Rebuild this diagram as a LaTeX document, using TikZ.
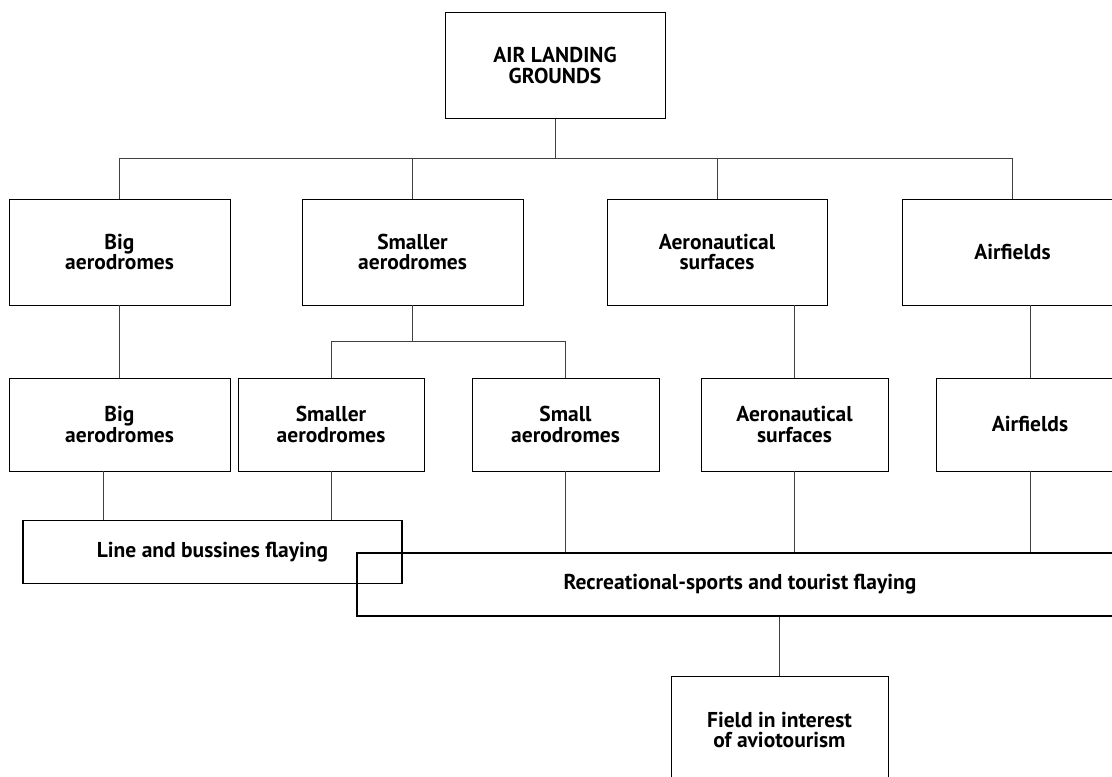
\documentclass[tikz,border=0pt]{standalone}
\usepackage{fontspec}
\setmainfont{PT Sans}

\begin{document}
\begin{tikzpicture}[x=10pt,y=-10pt,line width=0.8pt,
  every node/.style={font=\fontsize{21.5}{20.5}\selectfont\bfseries,align=center,inner sep=0pt},
  box/.style={draw,minimum width=221pt,minimum height=106pt},
  lowbox/.style={draw,minimum width=187pt,minimum height=93pt},
  band/.style={draw,line width=1.6pt,minimum height=63pt},
  wire/.style={draw=black!75,line width=0.9pt}]

\useasboundingbox (0,0) rectangle (111.2,77.7);

\node[box,minimum width=220pt] (ground) at (55.5,6.55) {AIR LANDING\\GROUNDS};

\node[box] (big1) at (11.95,25.2) {Big\\aerodromes};
\node[box] (smaller1) at (41.25,25.2) {Smaller\\aerodromes};
\node[box,minimum width=220pt] (aero1) at (71.7,25.2) {Aeronautical\\surfaces};
\node[box] (air1) at (101.25,25.2) {Airfields};

\node[lowbox,minimum width=221pt] (big2) at (11.95,42.45) {Big\\aerodromes};
\node[lowbox,minimum width=186pt] (smaller2) at (33.1,42.45) {Smaller\\aerodromes};
\node[lowbox] (small2) at (56.55,42.45) {Small\\aerodromes};
\node[lowbox] (aero2) at (79.45,42.45) {Aeronautical\\surfaces};
\node[lowbox] (air2) at (103.0,42.45) {Airfields};

\node[band,minimum width=379pt] (line) at (21.25,55.2) {Line and bussines flaying};
\node[band,minimum width=766pt] (rec) at (74.0,58.45) {Recreational-sports and tourist flaying};
\node[draw,minimum width=217pt,minimum height=108pt] (field) at (77.95,73.0) {Field in interest\\of aviotourism};

\coordinate (bus) at (0,15.8);
\coordinate (bus2) at (0,34.1);

\draw[wire] (ground.south) -- (ground.south |- bus);
\draw[wire] (big1.north) -- (big1.north |- bus) -- (air1.north |- bus) -- (air1.north);
\foreach \n in {smaller1,aero1} \draw[wire] (\n.north) -- (\n.north |- bus);

\draw[wire] (big1) -- (big2);
\draw[wire] (smaller1.south) -- (smaller1.south |- bus2);
\draw[wire] (smaller2.north) -- (smaller2.north |- bus2) -- (small2.north |- bus2) -- (small2.north);
\draw[wire] (aero2.north) -- (aero2.north |- aero1.south);
\draw[wire] (air2.north) -- (air2.north |- air1.south);

\draw[wire] ([xshift=-16.5pt]big2.south) -- ([xshift=-16.5pt]big2.south |- line.north);
\draw[wire] (smaller2.south) -- (smaller2.south |- line.north);
\foreach \n in {small2,aero2,air2} \draw[wire] (\n.south) -- (\n.south |- rec.north);
\draw[wire] (field.north) -- (field.north |- rec.south);

\end{tikzpicture}
\end{document}
